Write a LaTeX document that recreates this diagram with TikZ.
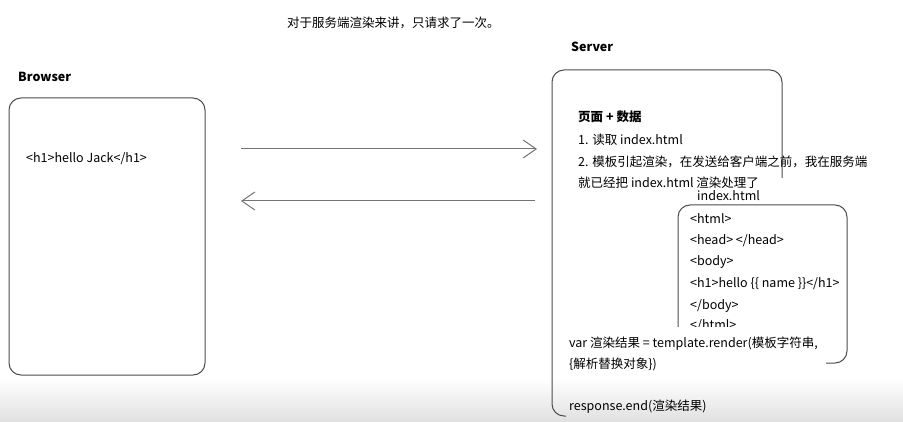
\documentclass[tikz,border=0pt]{standalone}
\usepackage{fontspec}
\setmainfont{Noto Sans CJK SC}
\usetikzlibrary{arrows.meta}

\begin{document}
\begin{tikzpicture}[x=1pt,y=-1pt,
  every node/.style={font=\fontsize{12.5}{15}\selectfont, inner sep=0pt,
    anchor=west, text height=9pt, text depth=3pt, yshift=-2pt},
  box/.style={draw=black!70, line width=1pt, rounded corners=12pt},
  flow/.style={draw=black!55, line width=1pt,
    -{Straight Barb[length=13pt,width=18pt]}},
  title/.style={font=\fontsize{12.5}{15}\selectfont\bfseries}]

  \useasboundingbox (0,0) rectangle (903,422);

  % screen fade at the bottom
  \shade[top color=white, bottom color=black!12] (0,378) rectangle (903,422);

  % Heading
  \node (heading) at (287,23) {对于服务端渲染来讲，只请求了一次。};

  % Browser side
  \node[title] (browser label) at (18,77) {Browser};
  \draw[box] (9,98) rectangle (205,375);
  \node (browser html) at (26,158) {<h1>hello Jack</h1>};

  % Request and response
  \coordinate (req start) at (241,147);
  \coordinate (req end)   at (537,147);
  \coordinate (res start) at (535,199);
  \coordinate (res end)   at (241,199);
  \draw[flow] (req start) -- (req end);
  \draw[flow] (res start) -- (res end);

  % Server side
  \node[title] (server label) at (571,47) {Server};
  \draw[box] (566,416) -- (552,416) -- (552,70) -- (782,70) -- (782,178);

  \node[title] (step title) at (578,117) {页面 + 数据};
  \node (step one)   at (578,140) {1. 读取 index.html};
  \node (step two)   at (578,162) {2. 模板引起渲染，在发送给客户端之前，我在服务端};
  \node (step two b) at (578,183) {就已经把 index.html 渲染处理了};

  % Template file
  \node (file label) at (697,196) {index.html};
  \draw[box] (678,205) rectangle (847,363);
  \node (tpl html)  at (690,219) {<html>};
  \node (tpl head)  at (690,240) {<head> </head>};
  \node (tpl body)  at (690,261) {<body>};
  \node (tpl h1)    at (690,283) {<h1>hello \{\{ name \}\}</h1>};
  \node (tpl ebody) at (690,304) {</body>};
  \node (tpl ehtml) at (690,325) {</html>};

  % Render call, lying over the file box
  \fill[white] (560,327) rectangle (826,372);
  \node (render a) at (569,342) {var 渲染结果 = template.render(模板字符串,};
  \node (render b) at (569,363) {\{解析替换对象\})};
  \node (respond)  at (569,405) {response.end(渲染结果)};
\end{tikzpicture}
\end{document}
